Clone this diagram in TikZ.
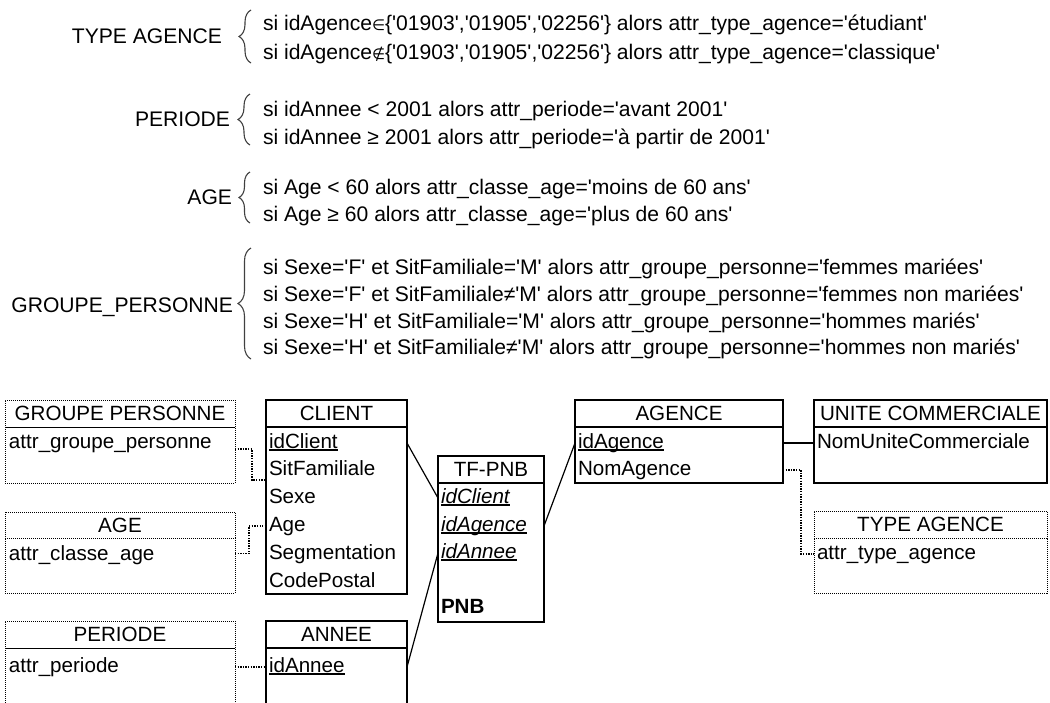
\documentclass[tikz,border=0pt]{standalone}
\usepackage{fontspec}
\setmainfont{Liberation Sans}[Ligatures=TeXOff]
\newfontfamily\dvfont{DejaVu Sans}
\usetikzlibrary{decorations.pathreplacing}
\newcommand\myul[1]{\setbox0\hbox{#1}\rlap{\rule[-2.5pt]{\wd0}{1.1pt}}\box0}
\newcommand\elem{{\dvfont\fontsize{15}{15}\selectfont ∈}}
\newcommand\nelem{{\dvfont\fontsize{15}{15}\selectfont ∉}}
\begin{document}
\begin{tikzpicture}[x=1pt,y=-1pt,
 every node/.style={font=\fontsize{20.6}{24}\selectfont, inner sep=0pt, outer sep=0pt},
 txt/.style={anchor=west, text height=15pt, text depth=5pt},
 rule/.style={txt, font=\fontsize{21.1}{25}\selectfont},
 captxt/.style={text height=15pt, text depth=0pt, font=\fontsize{21.1}{25}\selectfont},
 hdr/.style={draw, line width=1.2pt, minimum height=27pt, text height=14.7pt, text depth=0pt, anchor=north west},
 bdy/.style={draw, line width=1.2pt, anchor=north west},
 dhdr/.style={hdr, line width=1pt, dash pattern=on 1pt off 1pt},
 dbdy/.style={bdy, line width=1pt, dash pattern=on 1pt off 1pt},
 link/.style={line width=1.2pt},
 dlink/.style={line width=1.3pt, dash pattern=on 1.3pt off 1.3pt},
 brc/.style={decorate, decoration={brace, amplitude=#1pt}, line width=1.1pt, draw=black!75},
]
\useasboundingbox (0,0) rectangle (1050,702);
\fill[white] (0,0) rectangle (1050,702);
\clip (0,0) rectangle (1050,702);

% ---- rules ----
\node[captxt, anchor=east] (rTypeL) at (222,36) {TYPE AGENCE};
\draw[brc=12] (251,63) -- (251,10);
\node[rule] (rType1) at (263,25) {si idAgence\elem\{'01903','01905','02256'\} alors attr\_type\_agence='étudiant'};
\node[rule] (rType2) at (263,54) {si idAgence\nelem\{'01903','01905','02256'\} alors attr\_type\_agence='classique'};

\node[captxt, anchor=east] (rPerL) at (230,119) {PERIODE};
\draw[brc=12] (250,145) -- (250,94);
\node[rule] (rPer1) at (263,111) {si idAnnee < 2001 alors attr\_periode='avant 2001'};
\node[rule] (rPer2) at (263,139) {si idAnnee ≥ 2001 alors attr\_periode='à partir de 2001'};

\node[captxt, anchor=east] (rAgeL) at (232,197) {AGE};
\draw[brc=11] (250,223) -- (250,172);
\node[rule] (rAge1) at (263,189) {si Age < 60 alors attr\_classe\_age='moins de 60 ans'};
\node[rule] (rAge2) at (263,216) {si Age ≥ 60 alors attr\_classe\_age='plus de 60 ans'};

\node[captxt, anchor=east] (rGrpL) at (233,305) {GROUPE\_PERSONNE};
\draw[brc=13] (251,359) -- (251,248);
\node[rule] (rGrp1) at (263,269) {si Sexe='F' et SitFamiliale='M' alors attr\_groupe\_personne='femmes mariées'};
\node[rule] (rGrp2) at (263,296) {si Sexe='F' et SitFamiliale≠'M' alors attr\_groupe\_personne='femmes non mariées'};
\node[rule] (rGrp3) at (263,323) {si Sexe='H' et SitFamiliale='M' alors attr\_groupe\_personne='hommes mariés'};
\node[rule] (rGrp4) at (263,349) {si Sexe='H' et SitFamiliale≠'M' alors attr\_groupe\_personne='hommes non mariés'};

% ---- tables ----
\node[dhdr, minimum width=230pt] (grpH) at (5,400) {GROUPE PERSONNE};
\node[dbdy, minimum width=230pt, minimum height=56pt] (grpB) at (5,427) {};
\node[txt] (grpAttr) at (9,443) {attr\_groupe\_personne};

\node[dhdr, minimum width=230pt, minimum height=26pt] (ageH) at (5,512) {AGE};
\node[dbdy, minimum width=230pt, minimum height=55pt] (ageB) at (5,538) {};
\node[txt] (ageAttr) at (9,555) {attr\_classe\_age};

\node[dhdr, minimum width=230pt] (perH) at (5,621) {PERIODE};
\node[dbdy, minimum width=230pt, minimum height=90pt] (perB) at (5,648) {};
\node[txt] (perAttr) at (9,667) {attr\_periode};

\node[hdr, minimum width=141pt] (cliH) at (266,400) {CLIENT};
\node[bdy, minimum width=141pt, minimum height=167pt] (cliB) at (266,427) {};
\node[txt] (cliId) at (269,443) {\myul{idClient}};
\node[txt] (cliSit) at (269,470) {SitFamiliale};
\node[txt] (cliSexe) at (269,498) {Sexe};
\node[txt] (cliAge) at (269,526) {Age};
\node[txt] (cliSeg) at (269,554) {Segmentation};
\node[txt] (cliCP) at (269,582) {CodePostal};

\node[hdr, minimum width=141pt] (anH) at (266,621) {ANNEE};
\node[bdy, minimum width=141pt, minimum height=90pt] (anB) at (266,648) {};
\node[txt] (anId) at (269,667) {\myul{idAnnee}};

\node[hdr, minimum width=106pt] (tfH) at (438,456) {TF-PNB};
\node[bdy, minimum width=106pt, minimum height=139pt] (tfB) at (438,483) {};
\node[txt] (tfClient) at (441,498) {\myul{\itshape idClient}};
\node[txt] (tfAgence) at (441,526) {\myul{\itshape idAgence}};
\node[txt] (tfAnnee) at (441,553) {\myul{\itshape idAnnee}};
\node[txt] (tfPNB) at (441,608) {\textbf{PNB}};

\node[hdr, minimum width=208pt] (agH) at (575,400) {AGENCE};
\node[bdy, minimum width=208pt, minimum height=56pt] (agB) at (575,427) {};
\node[txt] (agId) at (578,443) {\myul{idAgence}};
\node[txt] (agNom) at (578,470) {NomAgence};

\node[hdr, minimum width=233pt] (ucH) at (814,400) {UNITE COMMERCIALE};
\node[bdy, minimum width=233pt, minimum height=56pt] (ucB) at (814,427) {};
\node[txt] (ucNom) at (817,443) {NomUniteCommerciale};

\node[dhdr, minimum width=233pt] (taH) at (814,511) {TYPE AGENCE};
\node[dbdy, minimum width=233pt, minimum height=55pt] (taB) at (814,538) {};
\node[txt] (taAttr) at (817,554) {attr\_type\_agence};

% ---- connectors ----
\draw[dlink] ([yshift=6pt]grpB.east) -- ++(17,0) |- (cliB.west |- cliSit.south);
\draw[dlink] ([yshift=12pt]ageB.east) -- ++(14,0) |- (cliB.west |- cliAge);
\draw[dlink] (perB.east |- perAttr) -- (anB.west |- perAttr);
\draw[link] (cliB.east |- cliId) -- (tfB.west |- tfClient);
\draw[link] (anB.east |- anId) -- (tfB.west |- tfAnnee);
\draw[link] (tfB.east |- tfAgence) -- (agB.west |- agId);
\draw[link] (agB.east |- agId) -- (ucB.west |- ucNom);
\draw[dlink] (agB.east |- agNom) -- ++(18,0) |- (taB.west |- taAttr);
\end{tikzpicture}
\end{document}
